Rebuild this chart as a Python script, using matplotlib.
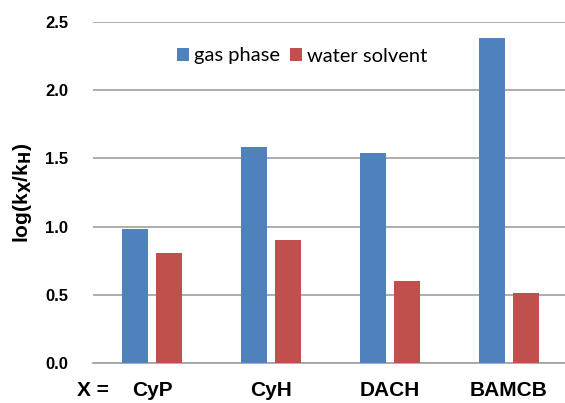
import numpy as np
import matplotlib
matplotlib.use("Agg")
from matplotlib import pyplot as plt

# log(kX/kH) for each substituent, gas phase vs water solvent
categories = ["CyP", "CyH", "DACH", "BAMCB"]
gas_phase = [0.98, 1.58, 1.54, 2.38]
water_solvent = [0.81, 0.90, 0.60, 0.51]
yticks = [0.0, 0.5, 1.0, 1.5, 2.0, 2.5]

blue = "#4f81bd"
red = "#c0504d"
grid_gray = "#a6a6a6"

plt.rcParams["font.family"] = ["Liberation Sans", "DejaVu Sans"]

fig = plt.figure(figsize=(5.65, 4.03), dpi=100)
ax = fig.add_axes([93 / 565, 1 - 363 / 403, 475 / 565, 341 / 403])

x = np.arange(len(categories))
width = 0.22
offset = 0.143
ax.bar(x - offset, gas_phase, width, color=blue, label="gas phase", zorder=3)
ax.bar(x + offset, water_solvent, width, color=red, label="water solvent", zorder=3)

ax.set_xlim(-0.5, len(categories) - 0.5)
ax.set_ylim(0, 2.5)
ax.set_yticks(yticks)
ax.set_yticklabels(["%.1f" % v for v in yticks], fontsize=12, fontweight="bold")
ax.yaxis.grid(True, color=grid_gray, linewidth=1.3, zorder=0)
ax.tick_params(axis="y", length=0, pad=18)
ax.tick_params(axis="x", length=0, pad=20)
ax.set_xticks(x)
ax.set_xticklabels(categories, fontsize=15, fontweight="bold", va="center")
for side in ["top", "right", "left"]:
    ax.spines[side].set_visible(False)
ax.spines["bottom"].set_color(grid_gray)
ax.spines["bottom"].set_linewidth(1.3)

ax.set_ylabel(r"log(k$_\mathbf{X}$/k$_\mathbf{H}$)", fontsize=15, fontweight="bold", labelpad=8)

fig.text(93 / 565, 1 - 391 / 403, "X =", fontsize=15, fontweight="bold",
         ha="center", va="center")

leg = ax.legend(loc="center left", bbox_to_anchor=(76 / 475, 1 - 34 / 341), ncol=2, frameon=False,
                prop={"family": "Lato", "size": 14.5}, handlelength=0.6, handleheight=0.6,
                handletextpad=0.25, columnspacing=0.5, borderaxespad=0)

fig.savefig("out.png", dpi=100)
